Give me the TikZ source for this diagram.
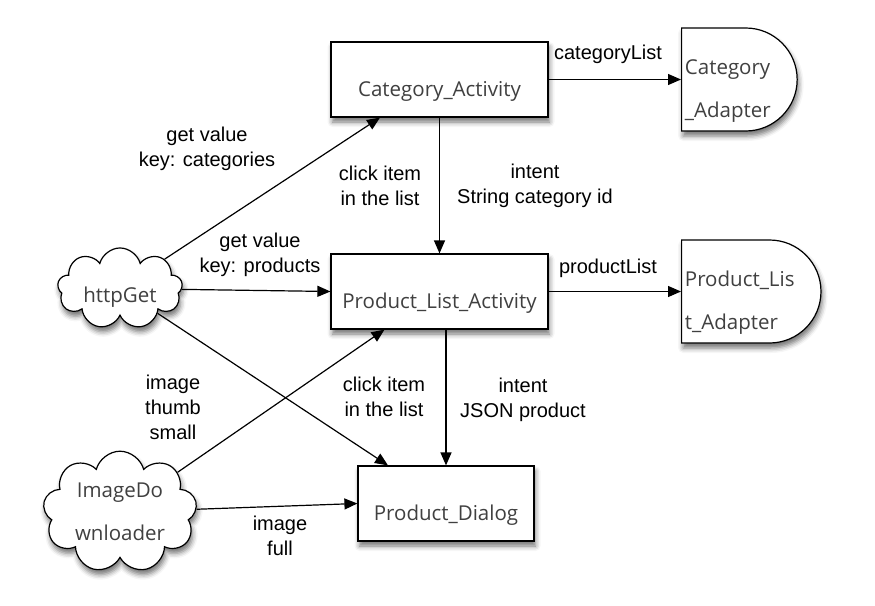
\documentclass[tikz,border=0pt]{standalone}
\usepackage{fontspec}
\setmainfont{Liberation Sans}
\newfontfamily\boxfont{Open Sans}
\usetikzlibrary{arrows.meta,shapes.symbols,shapes.misc,shadows.blur}

\newcommand\boxtext{\boxfont\fontsize{20.5}{43}\selectfont}
\newcommand\flowtext{\fontsize{20}{25}\selectfont}
\newcommand\lowstrut{\rule{0pt}{38pt}}

\begin{document}
\begin{tikzpicture}[x=1pt,y=-1pt,line width=1.2pt,>={Triangle[length=13pt,width=11pt]},
	soft shadow/.style={blur shadow={shadow xshift=1.5pt,shadow yshift=-5pt,shadow blur radius=5pt,shadow opacity=55}},
	activity/.style={rectangle,draw,fill=white,soft shadow,minimum width=217pt,minimum height=75pt,text height=36pt,text depth=2pt,font=\boxtext,text=black!75},
	adapter/.style={rounded rectangle,rounded rectangle left arc=none,draw,fill=white,soft shadow,minimum height=103pt,align=left,font=\boxtext,text=black!75,anchor=west},
	source/.style={cloud,cloud puffs=9,cloud ignores aspect,draw,fill=white,soft shadow,align=center,font=\boxtext,text=black!75},
	flow/.style={font=\flowtext,align=center,inner sep=0pt}]
	\useasboundingbox (0,0) rectangle (875,605);

	\node (category activity) [activity] at (439.5,79.5) {Category\_Activity};
	\node (product list activity) [activity,below of=category activity,node distance=212pt] {Product\_List\_Activity};
	\node (product dialog) [activity,minimum width=176pt,below of=product list activity,node distance=212pt,xshift=6.5pt] {Product\_Dialog};

	\node (category adapter) [adapter,minimum width=111pt] at (681,79.5) {\lowstrut Category\\\_Adapter};
	\node (product list adapter) [adapter,minimum width=127pt] at (681,291.5) {\lowstrut Product\_Lis\\t\_Adapter};

	\node (http get) [source,minimum width=125pt,minimum height=63pt,text height=30pt,text depth=2pt] at (120,288.5) {httpGet};
	\node (image downloader) [source,minimum width=154pt,minimum height=120pt] at (120,512) {ImageDo\\wnloader};

	\node (category list label) [flow] at (608,54) {categoryList};
	\node (product list label) [flow] at (608,268) {productList};
	\node (categories label) [flow] at (207,149) {get value\\key: categories};
	\node (products label) [flow] at (260,255) {get value\\key: products};
	\node (thumb label) [flow] at (173,407) {image\\thumb\\small};
	\node (full label) [flow] at (280,536) {image\\full};
	\node (click category label) [flow] at (380,186) {click item\\in the list};
	\node (category id label) [flow] at (535,186) {intent\\String category id};
	\node (click product label) [flow] at (384,397) {click item\\in the list};
	\node (json label) [flow] at (523,400) {intent\\JSON product};

	\draw[->] (category activity.east) -- (category adapter.west);
	\draw[->] (product list activity.east) -- (product list adapter.west);
	\draw[->] (category activity) -- (product list activity);
	\draw[->] (product list activity.south -| product dialog.north) -- (product dialog.north);

	\draw[->] (http get) -- ([xshift=-59.5pt]category activity.south);
	\draw[->] (http get) -- (product list activity.west);
	\draw[->] (http get) -- ([xshift=-58pt]product dialog.north);
	\draw[->] (image downloader) -- ([xshift=-55pt]product list activity.south);
	\draw[->] (image downloader) -- (product dialog.west);

\end{tikzpicture}
\end{document}
